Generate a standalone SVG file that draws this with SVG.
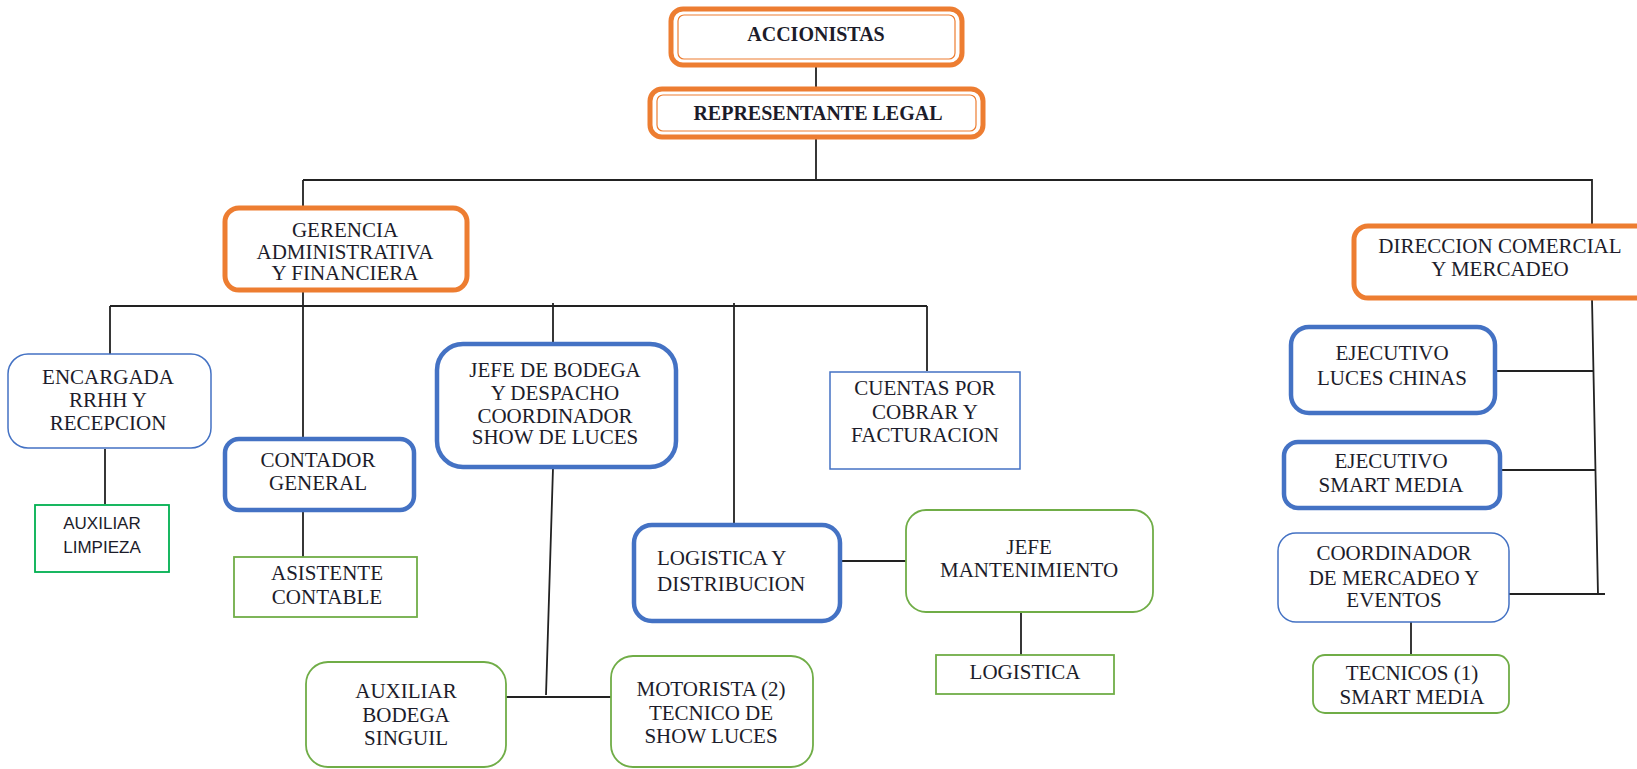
<svg xmlns="http://www.w3.org/2000/svg" width="1637" height="769" viewBox="0 0 1637 769">
<style>
text{font-family:"Liberation Serif","Times New Roman",serif;font-size:21px;fill:#1c1c2a;text-anchor:middle;dominant-baseline:central}
.b{font-weight:bold;font-size:20px}
.s{font-family:"Liberation Sans",Arial,sans-serif;font-size:17px}
.or{fill:#fff;stroke:#ed7d31;stroke-width:5}
.ori{fill:none;stroke:#ed7d31;stroke-width:1.2}
.bt{fill:#fff;stroke:#4472c4;stroke-width:4.5}
.bn{fill:#fff;stroke:#4472c4;stroke-width:1.5}
.g{fill:#fff;stroke:#70ad47;stroke-width:1.8}
.gv{fill:#fff;stroke:#00b050;stroke-width:1.8}
.c{fill:none;stroke:#222;stroke-width:1.8}
</style>
<g id="connectors">
<path class="c" d="M816 66V88M816 138V180M303 180H1592V225M303 180V207"/>
<path class="c" d="M1592 299L1598 595M1495 371H1594M1500 470H1596M1509 594H1605"/>
<path class="c" d="M1411 622V655"/>
<path class="c" d="M110 306H927M110 306V354M303 290V438M553 303V342M734 303V524M927 306V371"/>
<path class="c" d="M105 449V504M303 511V557"/>
<path class="c" d="M553 468L546 695M506 697H611"/>
<path class="c" d="M841 561H906M1021 612V655"/>
</g>
<g id="accionistas">
<rect class="or" x="671" y="9" width="291" height="56" rx="12"/>
<rect class="ori" x="678" y="15" width="277" height="44" rx="6"/>
<text class="b" x="816" y="34">ACCIONISTAS</text>
</g>
<g id="representante">
<rect class="or" x="650" y="89" width="333" height="48" rx="12"/>
<rect class="ori" x="657" y="95" width="319" height="36" rx="6"/>
<text class="b" x="818" y="113">REPRESENTANTE LEGAL</text>
</g>
<g id="gerencia">
<rect class="or" x="225" y="208" width="242" height="82" rx="14"/>
<text x="345" y="230">GERENCIA</text>
<text x="345" y="252">ADMINISTRATIVA</text>
<text x="345" y="273">Y FINANCIERA</text>
</g>
<g id="direccion">
<rect class="or" x="1354" y="226" width="300" height="72" rx="14"/>
<text x="1500" y="246">DIRECCION COMERCIAL</text>
<text x="1500" y="269">Y MERCADEO</text>
</g>
<g id="encargada">
<rect class="bn" x="8" y="354" width="203" height="94" rx="20"/>
<text x="108" y="377">ENCARGADA</text>
<text x="108" y="400">RRHH Y</text>
<text x="108" y="423">RECEPCION</text>
</g>
<g id="auxiliar-limpieza">
<rect class="gv" x="35" y="505" width="134" height="67"/>
<text class="s" x="102" y="523">AUXILIAR</text>
<text class="s" x="102" y="547">LIMPIEZA</text>
</g>
<g id="contador">
<rect class="bt" x="225" y="439" width="189" height="71" rx="14"/>
<text x="318" y="460">CONTADOR</text>
<text x="318" y="483">GENERAL</text>
</g>
<g id="asistente">
<rect class="g" x="234" y="557" width="183" height="60"/>
<text x="327" y="573">ASISTENTE</text>
<text x="327" y="597">CONTABLE</text>
</g>
<g id="jefe-bodega">
<rect class="bt" x="437" y="344" width="239" height="123" rx="26"/>
<text x="555" y="370">JEFE DE BODEGA</text>
<text x="555" y="393">Y DESPACHO</text>
<text x="555" y="416">COORDINADOR</text>
<text x="555" y="437">SHOW DE LUCES</text>
</g>
<g id="cuentas">
<rect class="bn" x="830" y="372" width="190" height="97"/>
<text x="925" y="388">CUENTAS POR</text>
<text x="925" y="412">COBRAR Y</text>
<text x="925" y="435">FACTURACION</text>
</g>
<g id="logistica-distribucion">
<rect class="bt" x="634" y="525" width="206" height="96" rx="18"/>
<text x="657" y="558" style="text-anchor:start">LOGISTICA Y</text>
<text x="657" y="584" style="text-anchor:start">DISTRIBUCION</text>
</g>
<g id="jefe-mantenimiento">
<rect class="g" x="906" y="510" width="247" height="102" rx="20"/>
<text x="1029" y="547">JEFE</text>
<text x="1029" y="570">MANTENIMIENTO</text>
</g>
<g id="logistica">
<rect class="g" x="936" y="655" width="178" height="39"/>
<text x="1025" y="672">LOGISTICA</text>
</g>
<g id="auxiliar-bodega">
<rect class="g" x="306" y="662" width="200" height="105" rx="22"/>
<text x="406" y="691">AUXILIAR</text>
<text x="406" y="715">BODEGA</text>
<text x="406" y="738">SINGUIL</text>
</g>
<g id="motorista">
<rect class="g" x="611" y="656" width="202" height="111" rx="22"/>
<text x="711" y="689">MOTORISTA (2)</text>
<text x="711" y="713">TECNICO DE</text>
<text x="711" y="736">SHOW LUCES</text>
</g>
<g id="ejecutivo-luces">
<rect class="bt" x="1291" y="327" width="204" height="86" rx="18"/>
<text x="1392" y="353">EJECUTIVO</text>
<text x="1392" y="378">LUCES CHINAS</text>
</g>
<g id="ejecutivo-smart">
<rect class="bt" x="1284" y="442" width="216" height="66" rx="14"/>
<text x="1391" y="461">EJECUTIVO</text>
<text x="1391" y="485">SMART MEDIA</text>
</g>
<g id="coordinador">
<rect class="bn" x="1278" y="533" width="231" height="89" rx="18"/>
<text x="1394" y="553">COORDINADOR</text>
<text x="1394" y="578">DE MERCADEO Y</text>
<text x="1394" y="600">EVENTOS</text>
</g>
<g id="tecnicos">
<rect class="g" x="1313" y="655" width="196" height="58" rx="12"/>
<text x="1412" y="673">TECNICOS (1)</text>
<text x="1412" y="697">SMART MEDIA</text>
</g>
</svg>
